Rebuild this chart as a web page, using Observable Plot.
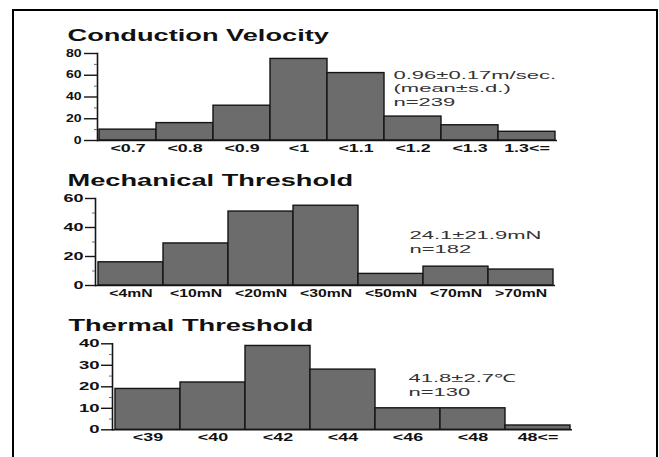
<!DOCTYPE html>
<html><head><meta charset="utf-8">
<script src="https://cdn.jsdelivr.net/npm/d3@7"></script>
<script src="https://cdn.jsdelivr.net/npm/@observablehq/plot@0.6"></script>
<style>
html,body{margin:0;padding:0;background:#fff;width:659px;height:457px;overflow:hidden;}
#frame{position:absolute;left:12px;top:9px;width:646px;height:470px;border:2px solid #000;box-sizing:border-box;pointer-events:none;z-index:5}
.chart{position:absolute;left:0}
</style></head><body>
<div id="c1" class="chart" style="top:0px"></div>
<div id="c2" class="chart" style="top:160px"></div>
<div id="c3" class="chart" style="top:310px"></div>
<div id="frame"></div>
<script>
// Conduction velocity
const cvTitle = "Conduction Velocity";
const cvCategories = ["<0.7","<0.8","<0.9","<1","<1.1","<1.2","<1.3","1.3<="];
const cvCounts = [10,16,32,75,62,22,14,8];
const cvTicks = [0,20,40,60,80];
const cvMinor = [10,30,50,70];
const cvNote = ["0.96±0.17m/sec.","(mean±s.d.)","n=239"];

// Mechanical threshold
const mtTitle = "Mechanical Threshold";
const mtCategories = ["<4mN","<10mN","<20mN","<30mN","<50mN","<70mN",">70mN"];
const mtCounts = [16,29,51,55,8,13,11];
const mtTicks = [0,20,40,60];
const mtMinor = [10,30,50];
const mtNote = ["24.1±21.9mN","n=182"];

// Thermal threshold
const ttTitle = "Thermal Threshold";
const ttCategories = ["<39","<40","<42","<44","<46","<48","48<="];
const ttCounts = [19,22,39,28,10,10,2];
const ttTicks = [0,10,20,30,40];
const ttMinor = [5,15,25,35];
const ttNote = ["41.8±2.7℃","n=130"];

function chart(o) {
  const data = o.cats.map((c, i) => ({cat: c, n: o.vals[i]}));
  const marks = [
    Plot.barY(data, {x: "cat", y: "n", fill: "#6c6c6c", stroke: "#151515", strokeWidth: 1.4}),
    Plot.ruleY([0], {stroke: "#151515", strokeWidth: 1.6}),
    Plot.frame({anchor: "left", stroke: "#151515", strokeWidth: 1.6}),
    Plot.axisY({ticks: o.yTicks, tickSize: o.yTickSize, tickPadding: o.yPad, fontSize: 10, fontWeight: "bold", stroke: "#151515", strokeWidth: 1.4, label: null}),
    Plot.axisY({ticks: o.yMinor, tickSize: 3, text: null, label: null, stroke: "#666"}),
    Plot.axisX({tickSize: 0, tickPadding: 4, fontSize: 10.5, fontWeight: "bold", label: null}),
    Plot.text([o.title], {text: d => d, frameAnchor: "top-left", dx: o.titleDx, dy: o.titleDy, textAnchor: "start", lineAnchor: "middle", fontSize: 17, fontWeight: "bold", fill: "#111"}),
    ...o.note.map((t, i) => Plot.text([t], {text: d => d, frameAnchor: "top-left", dx: o.noteDx, dy: o.noteDy + i * o.noteLh, textAnchor: "start", lineAnchor: "middle", fontSize: 11, fill: "#333"}))
  ];
  return Plot.plot({
    width: 659, height: o.height,
    marginTop: o.mt, marginBottom: o.mb, marginLeft: o.ml, marginRight: o.mr,
    x: {domain: o.cats, padding: 0, label: null},
    y: {domain: [0, o.yMax], label: null},
    style: {background: "transparent", fontFamily: "'Liberation Sans', Arial, sans-serif", color: "#111", overflow: "visible"},
    marks
  });
}

function stretch(svg, f) {
  svg.querySelectorAll("text").forEach(t => {
    const g = t.closest("g[aria-label]");
    const lab = g ? g.getAttribute("aria-label") : "";
    let k;
    if (lab.startsWith("x-axis")) k = f.x;
    else if (lab.startsWith("y-axis")) k = f.y;
    else {
      const fs = t.closest("[font-size]");
      k = fs && +fs.getAttribute("font-size") >= 15 ? f.title : f.note;
    }
    const len = t.getComputedTextLength();
    if (len > 0) {
      t.setAttribute("textLength", (len * k).toFixed(1));
      t.setAttribute("lengthAdjust", "spacingAndGlyphs");
    }
  });
}

const specs = [
  {el: "c1", cats: cvCategories, vals: cvCounts, yMax: 80, yTicks: cvTicks, yMinor: cvMinor, note: cvNote, title: cvTitle,
   height: 160, mt: 53, mb: 20, ml: 97, mr: 102, yTickSize: 13, yPad: 3,
   titleDx: -30, titleDy: -18, noteDx: 296, noteDy: 21.5, noteLh: 13.5, f: {title: 1.6, note: 2.0, x: 1.7, y: 1.4}},
  {el: "c2", cats: mtCategories, vals: mtCounts, yMax: 60, yTicks: mtTicks, yMinor: mtMinor, note: mtNote, title: mtTitle,
   height: 150, mt: 38, mb: 25, ml: 95, mr: 104, yTickSize: 10, yPad: 2,
   titleDx: -28, titleDy: -17.5, noteDx: 314, noteDy: 37, noteLh: 14, f: {title: 1.6, note: 2.0, x: 1.5, y: 1.8}},
  {el: "c3", cats: ttCategories, vals: ttCounts, yMax: 40, yTicks: ttTicks, yMinor: ttMinor, note: ttNote, title: ttTitle,
   height: 147, mt: 33.3, mb: 27.7, ml: 112, mr: 87, yTickSize: 11, yPad: 2,
   titleDx: -44, titleDy: -17.8, noteDx: 296, noteDy: 35, noteLh: 13.4, f: {title: 1.6, note: 2.0, x: 1.7, y: 1.85}}
];

for (const s of specs) {
  const svg = chart(s);
  document.getElementById(s.el).appendChild(svg);
  stretch(svg, s.f);
}
</script>
</body></html>
